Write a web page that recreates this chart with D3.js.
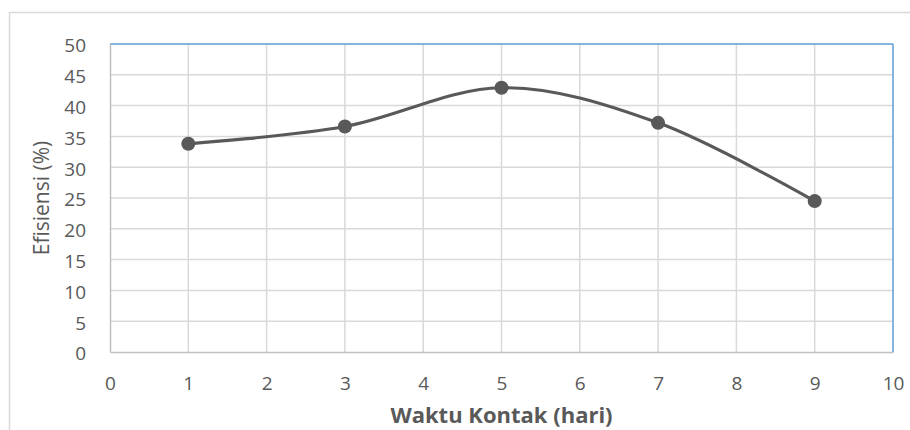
<!DOCTYPE html>
<html>
<head>
<meta charset="utf-8">
<script src="https://cdn.jsdelivr.net/npm/d3@7/dist/d3.min.js"></script>
<style>
  html, body { margin: 0; padding: 0; background: #fff; }
  svg { display: block; font-family: "Open Sans", sans-serif; }
</style>
</head>
<body>
<svg id="chart" width="910" height="430"></svg>
<script>
const waktu = [1, 3, 5, 7, 9];
const efisiensi = [33.8, 36.6, 42.9, 37.2, 24.5];
const xTicks = [0, 1, 2, 3, 4, 5, 6, 7, 8, 9, 10];
const yTicks = [0, 5, 10, 15, 20, 25, 30, 35, 40, 45, 50];
const xTitle = "Waktu Kontak (hari)";
const yTitle = "Efisiensi (%)";

const svg = d3.select("#chart");
const L = 110, R = 893, T = 44, B = 352;

const x = d3.scaleLinear().domain([0, 10]).range([L, R]);
const y = d3.scaleLinear().domain([0, 50]).range([B, T]);

// outer chart border (cropped)
svg.append("rect").attr("x", 9.5).attr("y", 12.5).attr("width", 940).attr("height", 500)
  .attr("fill", "none").attr("stroke", "#d9d9d9").attr("stroke-width", 1.5);

// gridlines
svg.append("g").selectAll("line").data(xTicks.filter(d => d > 0 && d < 10)).join("line")
  .attr("x1", d => x(d)).attr("x2", d => x(d)).attr("y1", T).attr("y2", B)
  .attr("stroke", "#d9d9d9").attr("stroke-width", 1.5);
svg.append("g").selectAll("line").data(yTicks.filter(d => d > 0 && d < 50)).join("line")
  .attr("x1", L).attr("x2", R).attr("y1", d => y(d)).attr("y2", d => y(d))
  .attr("stroke", "#d9d9d9").attr("stroke-width", 1.5);

// plot-area border: top & right blue
svg.append("line").attr("x1", L).attr("x2", R).attr("y1", T).attr("y2", T)
  .attr("stroke", "#5b9bd5").attr("stroke-width", 1.5);
svg.append("line").attr("x1", R).attr("x2", R).attr("y1", T).attr("y2", B)
  .attr("stroke", "#5b9bd5").attr("stroke-width", 1.5);

// axes
const xAxis = d3.axisBottom(x).tickValues(xTicks).tickSize(0).tickPadding(0).tickFormat(d3.format("d"));
const gx = svg.append("g").attr("transform", `translate(0,${B})`).call(xAxis);
gx.select(".domain").attr("stroke", "#bfbfbf").attr("stroke-width", 1.5);
gx.selectAll("text").attr("fill", "#595959").attr("font-size", 19)
  .attr("font-family", "Open Sans, sans-serif").attr("dy", null).attr("y", 38);

const yAxis = d3.axisLeft(y).tickValues(yTicks).tickSize(0).tickPadding(0).tickFormat(d3.format("d"));
const gy = svg.append("g").attr("transform", `translate(${L},0)`).call(yAxis);
gy.select(".domain").attr("stroke", "#bfbfbf").attr("stroke-width", 1.5);
gy.selectAll("text").attr("fill", "#595959").attr("font-size", 19)
  .attr("font-family", "Open Sans, sans-serif").attr("x", -24).attr("dy", "0.42em");

// line
const pts = waktu.map((w, i) => [w, efisiensi[i]]);
const line = d3.line().x(d => x(d[0])).y(d => y(d[1])).curve(d3.curveCardinal.tension(0));
svg.append("path").datum(pts).attr("d", line)
  .attr("fill", "none").attr("stroke", "#595959").attr("stroke-width", 3.2);

svg.append("g").selectAll("circle").data(pts).join("circle")
  .attr("cx", d => x(d[0])).attr("cy", d => y(d[1])).attr("r", 7)
  .attr("fill", "#595959");

// titles
svg.append("text").attr("x", (L + R) / 2).attr("y", 423)
  .attr("text-anchor", "middle").attr("font-size", 22).attr("font-weight", "bold")
  .attr("fill", "#595959").text(xTitle);
svg.append("text").attr("transform", `translate(49,${(T + B) / 2}) rotate(-90)`)
  .attr("text-anchor", "middle").attr("font-size", 21)
  .attr("fill", "#595959").text(yTitle);
</script>
</body>
</html>
